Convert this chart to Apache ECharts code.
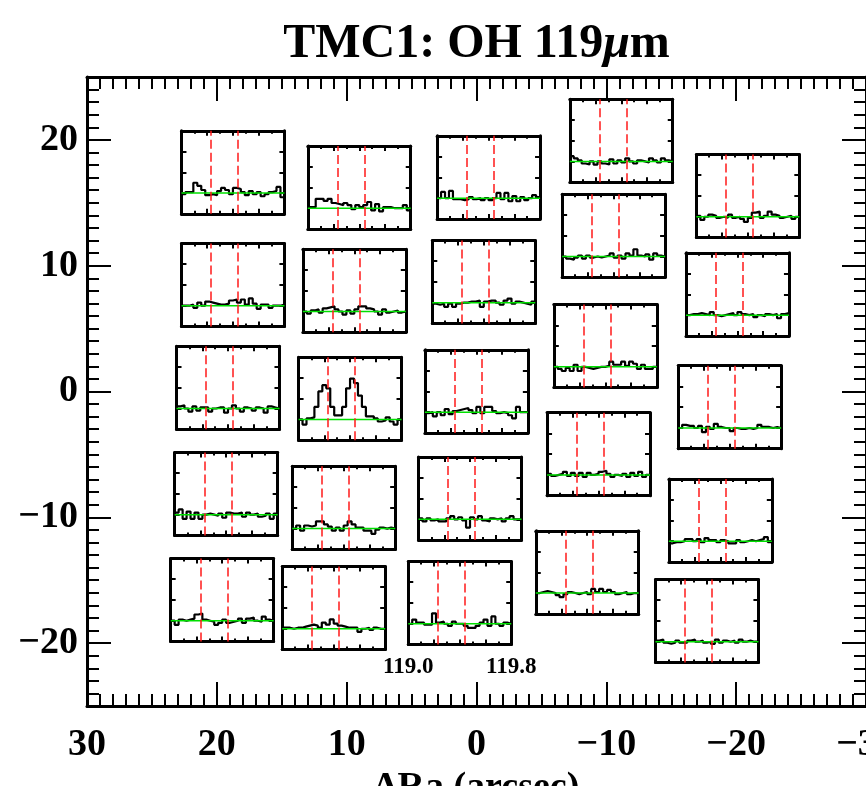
<!DOCTYPE html>
<html><head><meta charset="utf-8">
<script src="https://cdn.jsdelivr.net/npm/echarts@6/dist/echarts.min.js"></script>
<style>html,body{margin:0;padding:0;background:#fff}#c{width:866px;height:786px}</style>
</head><body><div id="c"></div>
<script>
// ---- data ----
const titleText = 'TMC1: OH 119{mu|μ}m';
const xAxisName = 'ΔRa (arcsec)';
// pointing offsets (arcsec) of each spectrum panel centre
const raOffsets  = [18.76, 18.76, 19.14, 19.28, 19.59,  9.03, 9.41, 9.74, 10.23, 11.0,  -0.93, -0.56, 0.01, 0.5, 1.29,  -11.15, -10.56, -9.92, -9.4, -8.53,  -20.9, -20.1, -19.5, -18.78, -17.75];
const decOffsets = [17.42, 8.47, 0.30, -8.14, -16.57,  16.22, 8.01, -0.57, -9.25, -17.21,  17.02, 8.71, 0.01, -8.51, -16.81,  19.94, 12.38, 3.61, -4.98, -14.37,  15.54, 7.72, -1.25, -10.25, -18.24];
// wavelength range (micron) of each panel and the OH doublet
const wlMin = 119.0, wlMax = 119.8;
const ohLines = [119.23, 119.44];
const baselineLevel = 0;
// line-subtracted flux per channel (arbitrary units)
const spec01 = [-0.05,0.05,0.05,0.5,0.35,0.15,-0.1,-0.05,-0.1,0.1,0.25,0.15,-0.05,0.25,0.2,0.05,-0.1,0.1,-0.05,0.05,-0.15,-0.05,0.05,0.1,0.3,-0.2];
const spec02 = [0,0,0.05,-0.1,0.15,0,0.2,0.15,0.1,0.05,0.05,0.1,0.25,0.3,0.15,0.3,0.05,0.35,0.1,-0.15,0.05,0.05,-0.1,0,0,0.05];
const spec03 = [0.1,0.15,0,-0.15,0.1,-0.1,0.05,0.05,-0.15,0,0.05,0.05,-0.2,0,0.15,0,-0.15,0.05,0,-0.1,0.05,0,-0.2,0.1,0.05,0];
const spec04 = [0.1,0.25,-0.2,0.15,-0.2,0.1,-0.2,0,0.05,0,-0.05,0.05,-0.15,0.1,0.05,0.05,0.1,-0.1,0.1,0,0.05,-0.1,-0.05,0.05,-0.2,0.05];
const spec05 = [0,-0.2,0.05,0,0.05,0.1,0.3,0.35,0.05,0,-0.05,-0.2,-0.1,0.05,-0.1,-0.05,0,0.1,-0.1,0.1,0.15,0,-0.05,0.2,0.05,0];
const spec06 = [0.05,0.05,0.45,0.45,0.35,0.45,0.25,0.2,0.15,0.25,0.15,-0.05,0.15,0.05,0.15,0.3,-0.1,0.2,-0.15,0.05,0.05,0,0,0,0.15,-0.1];
const spec07 = [0,-0.1,0.05,0.1,-0.05,0.15,0.2,0.25,0.1,0,-0.15,0.05,-0.1,0.1,0.25,0.25,0.15,0.1,0,-0.15,0.1,-0.05,0,0.05,-0.05,0];
const spec08 = [0,-0.25,0.05,0.1,0.6,1.35,1.65,1.5,0.6,0.2,0.2,0.6,1.5,1.97,1.75,1.15,0.6,0.15,0.15,0.05,-0.1,-0.05,0.1,-0.1,-0.25,0];
const spec09 = [0,0.15,-0.1,0.15,0.1,0.15,0.35,0.35,0.2,0.1,-0.1,0.05,-0.1,0.15,0.35,0.2,0.05,0.05,-0.1,-0.1,-0.25,-0.05,0.05,0,0.05,0];
const spec10 = [0.05,0.05,0,0.05,0.05,0.1,0.15,0.2,0.15,0.05,0.3,0.2,0.45,0.25,0.15,0.1,0.05,0.05,0.05,-0.15,0,0.05,-0.05,0.05,0,0];
const spec11 = [0,0.3,0,0.35,-0.05,-0.05,-0.1,-0.05,0.05,-0.05,0,-0.1,0,-0.1,0,0.25,-0.05,0.25,-0.15,0.1,-0.15,0.05,-0.1,0,0.15,0.05];
const spec12 = [-0.05,-0.1,-0.05,-0.2,-0.05,-0.2,-0.05,0,0,0.05,0.05,0.1,-0.2,0.05,0.1,0.1,0,-0.1,0.1,0.2,-0.05,0.05,0,-0.05,-0.1,0.05];
const spec13 = [-0.05,0,-0.2,0,-0.15,0.15,-0.1,0.05,0.1,0.15,0.2,0.1,-0.05,0.25,-0.05,0.25,0.25,0.05,-0.05,0,-0.05,-0.15,-0.3,0.25,0,0];
const spec14 = [0.05,-0.1,0.05,-0.05,0,-0.1,-0.1,0.05,0.15,0,0.1,-0.05,-0.4,0.1,0,0.15,-0.05,-0.1,0.05,0,0.05,-0.1,0.05,0.15,0,0];
const spec15 = [0,0.2,0.05,0.05,-0.05,-0.05,0.5,0.05,0.1,0,-0.1,0.1,0,0,-0.1,-0.2,-0.2,-0.1,0.05,0.2,-0.1,0.35,0,-0.1,0.05,0];
const spec16 = [0.25,0.15,0.05,-0.1,-0.15,0,-0.15,0,-0.1,-0.15,0.1,-0.1,0.05,-0.05,0.15,0,-0.1,0.05,0,-0.05,0.15,0.05,-0.05,0.15,0.05,0];
const spec17 = [0,-0.1,-0.15,-0.05,0.05,-0.1,0.05,-0.05,0,-0.05,0,0.05,0.15,-0.05,0.05,-0.1,0.15,0.05,0.35,0.05,0,0.1,-0.15,0.15,0.05,0];
const spec18 = [0,-0.1,-0.2,-0.05,-0.2,0.1,-0.2,0,-0.05,-0.1,-0.05,0,0,0.05,0.25,0.1,0.1,0.25,0.05,0.25,0.15,-0.1,0.1,-0.1,-0.1,0];
const spec19 = [0.05,-0.05,0,0.05,0.15,-0.05,0.1,-0.05,0.1,-0.1,0.1,0,0.05,0.15,0.2,0.05,-0.1,0,-0.05,0.05,-0.1,0.1,-0.05,0.15,-0.1,0];
const spec20 = [0,0.05,0.1,0.05,0,-0.1,-0.2,-0.05,0.05,0,-0.05,0,0.05,-0.05,0.2,0.05,0.2,0.05,0.15,0.05,-0.05,0,0.05,-0.05,0,0];
const spec21 = [0.05,-0.15,0,0.1,0.05,-0.05,0,-0.05,0.1,-0.05,0,-0.1,-0.25,-0.05,0.2,0.25,-0.05,0.05,0.25,0.1,0.05,-0.05,0,0.05,-0.1,0];
const spec22 = [0,0.05,0.05,0.1,0.05,0,0.15,0,-0.05,0,0.05,0.1,0,0.15,0.05,0,0.05,-0.1,0,-0.05,0.05,0,0.05,-0.15,0.05,0.1];
const spec23 = [0,0.15,0.1,0.1,0,0.1,-0.2,0.05,-0.05,0.2,0.05,0,0,-0.15,0,-0.05,-0.05,0,-0.05,0,0.15,0.05,0.05,0,0.05,0];
const spec24 = [-0.1,-0.05,-0.05,0,0.1,0.1,0,0.1,-0.05,0.15,0.05,0.05,-0.05,0.05,0,-0.1,-0.1,0.05,-0.05,0,0.05,0,0.05,0.1,0.2,-0.05];
const spec25 = [0.05,0.1,-0.05,-0.1,-0.05,0.05,-0.05,-0.05,0.05,0.1,0,0.05,-0.05,0,-0.1,0.1,-0.05,0.05,0,0.05,-0.05,0.1,0,0.05,0,0];
const spectra = [spec01,spec02,spec03,spec04,spec05,spec06,spec07,spec08,spec09,spec10,spec11,spec12,spec13,spec14,spec15,spec16,spec17,spec18,spec19,spec20,spec21,spec22,spec23,spec24,spec25];
const labelledPanel = 14; // panel carrying the wavelength labels

// ---- layout / style ----
const FONT = 'Liberation Serif';
const PANEL_W = 7.93, PANEL_H = 6.6;   // panel size in arcsec
const mainGrid = {left: 87, top: 77, width: 779, height: 629, outerBoundsMode: 'none', containLabel: false};
const BLACK = '#000';
const fmtMinus = v => String(v).replace('-', '\u2212');

const mainAxisCommon = {
  type: 'value', gridIndex: 0,
  axisLine: {show: true, onZero: false, lineStyle: {color: BLACK, width: 3}},
  axisTick: {show: true, inside: true, length: 24, lineStyle: {color: BLACK, width: 2}},
  minorTick: {show: true, splitNumber: 10, length: 12, lineStyle: {color: BLACK, width: 2}},
  splitLine: {show: false}, minorSplitLine: {show: false}
};
const labelStyle = {color: BLACK, fontFamily: FONT, fontWeight: 'bold', fontSize: 38};

const baseOption = {
  animation: false,
  backgroundColor: '#fff',
  grid: [Object.assign({}, mainGrid)],
  xAxis: [
    Object.assign({}, mainAxisCommon, {position: 'bottom', min: -30, max: 30, interval: 10, inverse: true,
      axisLabel: Object.assign({show: true, margin: 20, formatter: fmtMinus, showMinLabel: true, showMaxLabel: true, hideOverlap: false}, labelStyle),
      name: xAxisName, nameLocation: 'middle', nameGap: 62,
      nameTextStyle: {color: BLACK, fontFamily: FONT, fontWeight: 'bold', fontSize: 38}}),
    Object.assign({}, mainAxisCommon, {position: 'top', min: -30, max: 30, interval: 10, inverse: true, axisLabel: {show: false}})
  ],
  yAxis: [
    Object.assign({}, mainAxisCommon, {position: 'left', min: -25, max: 25, splitNumber: 5,
      axisLabel: Object.assign({show: true, margin: 9, formatter: fmtMinus, showMinLabel: false, showMaxLabel: false}, labelStyle)}),
    Object.assign({}, mainAxisCommon, {position: 'right', min: -25, max: 25, splitNumber: 5, axisLabel: {show: false}})
  ],
  series: []
};

const chart = echarts.init(document.getElementById('c'), null, {renderer: 'canvas'});
chart.setOption(baseOption);

const grids = [Object.assign({}, mainGrid)];
const xAxes = baseOption.xAxis.slice();
const yAxes = baseOption.yAxis.slice();
const series = [];

function panelAxis(extra) {
  return Object.assign({
    type: 'value',
    axisLine: {show: true, onZero: false, lineStyle: {color: BLACK, width: 3}},
    axisTick: {show: true, inside: true, length: 5, lineStyle: {color: BLACK, width: 2}},
    splitLine: {show: false}, axisLabel: {show: false}
  }, extra);
}

spectra.forEach((vals, i) => {
  const tl = chart.convertToPixel({gridIndex: 0}, [raOffsets[i] + PANEL_W / 2, decOffsets[i] + PANEL_H / 2]);
  const br = chart.convertToPixel({gridIndex: 0}, [raOffsets[i] - PANEL_W / 2, decOffsets[i] - PANEL_H / 2]);
  const gi = grids.length;
  grids.push({left: tl[0], top: tl[1], width: br[0] - tl[0], height: br[1] - tl[1], outerBoundsMode: 'none', containLabel: false});
  const xi = xAxes.length, yi = yAxes.length;
  const xCommon = {gridIndex: gi, min: wlMin, max: wlMax, interval: 0.2,
    minorTick: {show: true, splitNumber: 2, length: 3, lineStyle: {color: BLACK, width: 2}}};
  const bottomX = panelAxis(Object.assign({}, xCommon, {position: 'bottom'}));
  if (i === labelledPanel) {
    bottomX.axisLabel = {show: true, margin: 11, color: BLACK, fontFamily: FONT, fontWeight: 'bold', fontSize: 23,
      showMinLabel: true, showMaxLabel: true,
      formatter: v => (Math.abs(v - wlMin) < 1e-6 || Math.abs(v - wlMax) < 1e-6) ? v.toFixed(1) : ''};
  }
  xAxes.push(bottomX);
  xAxes.push(panelAxis(Object.assign({}, xCommon, {position: 'top'})));
  const yCommon = {gridIndex: gi, min: -1, max: 3, interval: 1};
  yAxes.push(panelAxis(Object.assign({}, yCommon, {position: 'left'})));
  yAxes.push(panelAxis(Object.assign({}, yCommon, {position: 'right'})));

  const n = vals.length;
  const dw = (wlMax - wlMin) / n;
  const pts = vals.map((v, k) => [wlMin + k * dw, v]);
  pts.push([wlMax, vals[n - 1]]);
  series.push({
    type: 'line', xAxisIndex: xi, yAxisIndex: yi, data: pts, step: 'end',
    symbol: 'none', silent: true, lineStyle: {color: BLACK, width: 2.2}, z: 3,
    markLine: {silent: true, symbol: ['none', 'none'], label: {show: false},
      lineStyle: {color: '#ff1a1a', type: [9, 4], width: 1.5},
      emphasis: {disabled: true},
      data: ohLines.map(w => ({xAxis: w}))}
  });
  series.push({
    type: 'line', xAxisIndex: xi, yAxisIndex: yi, data: [[wlMin, baselineLevel], [wlMax, baselineLevel]],
    symbol: 'none', silent: true, lineStyle: {color: '#00e000', width: 1.5}, z: 4
  });
});

chart.setOption({
  animation: false,
  backgroundColor: '#fff',
  grid: grids,
  xAxis: xAxes,
  yAxis: yAxes,
  series: series,
  graphic: [{
    type: 'text', x: mainGrid.left + mainGrid.width / 2, y: 45, silent: true,
    style: {text: titleText, fill: BLACK, fontFamily: FONT, fontWeight: 'bold', fontSize: 48,
      align: 'center', verticalAlign: 'middle',
      rich: {mu: {fontFamily: FONT, fontWeight: 'bold', fontStyle: 'italic', fontSize: 48, fill: BLACK}}}
  }]
}, true);
</script>
</body></html>
